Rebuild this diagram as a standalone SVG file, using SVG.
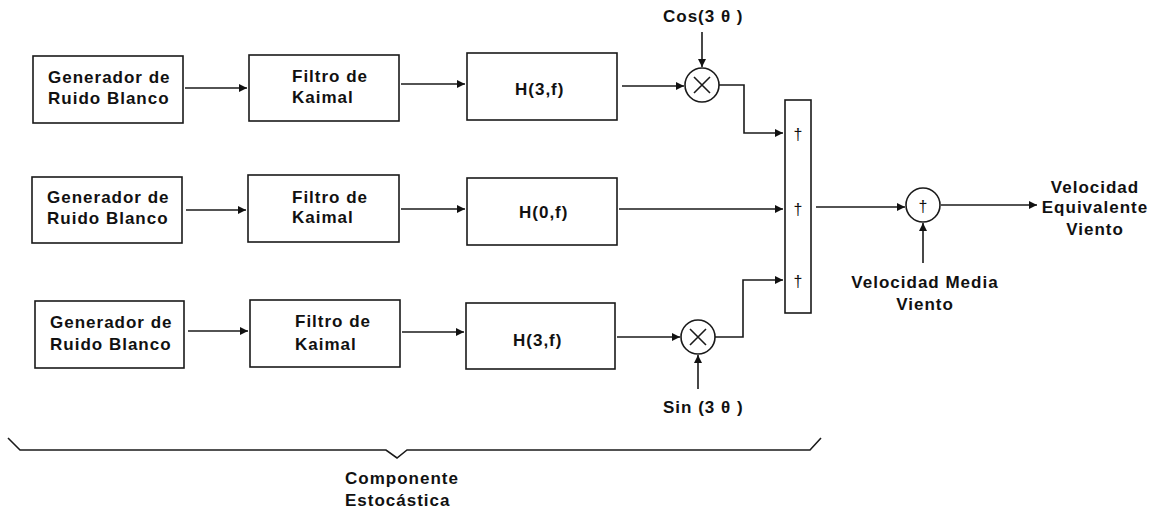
<svg xmlns="http://www.w3.org/2000/svg" width="1153" height="510" viewBox="0 0 1153 510">
<style>
.box{fill:#fff;stroke:#1a1a1a;stroke-width:1.6}
.ln{fill:none;stroke:#1a1a1a;stroke-width:1.6}
.t{font-family:"Liberation Sans",Arial,sans-serif;font-weight:bold;font-size:17px;letter-spacing:1px;fill:#111}
.d{font-family:"Liberation Sans",Arial,sans-serif;font-size:16px;fill:#111}
</style>
<defs>
<marker id="ah" markerUnits="userSpaceOnUse" markerWidth="9" markerHeight="8" refX="8" refY="4" orient="auto">
<path d="M0,0 L8,4 L0,8 z" fill="#111"/>
</marker>
</defs>
<rect width="1153" height="510" fill="#fff"/>

<g id="gen1"><rect class="box" x="33" y="56" width="150" height="67"/><text class="t" x="48" y="83">Generador de</text><text class="t" x="48" y="104">Ruido Blanco</text></g>
<g id="gen2"><rect class="box" x="32" y="177" width="150" height="66"/><text class="t" x="47" y="203">Generador de</text><text class="t" x="47" y="224">Ruido Blanco</text></g>
<g id="gen3"><rect class="box" x="35" y="301" width="149" height="67"/><text class="t" x="50" y="328">Generador de</text><text class="t" x="50" y="350">Ruido Blanco</text></g>

<g id="filt1"><rect class="box" x="249" y="55" width="150" height="66"/><text class="t" x="292" y="82">Filtro de</text><text class="t" x="292" y="103">Kaimal</text></g>
<g id="filt2"><rect class="box" x="248" y="175" width="151" height="67"/><text class="t" x="292" y="203">Filtro de</text><text class="t" x="292" y="223">Kaimal</text></g>
<g id="filt3"><rect class="box" x="250" y="300" width="150" height="67"/><text class="t" x="295" y="327">Filtro de</text><text class="t" x="295" y="350">Kaimal</text></g>

<g id="h1"><rect class="box" x="467" y="53" width="150" height="67"/><text class="t" x="515" y="95">H(3,f)</text></g>
<g id="h2"><rect class="box" x="467" y="178" width="150" height="67"/><text class="t" x="519" y="218">H(0,f)</text></g>
<g id="h3"><rect class="box" x="466" y="303" width="149" height="66"/><text class="t" x="513" y="346">H(3,f)</text></g>

<g id="mult1"><circle class="ln" cx="702" cy="85" r="17"/><path class="ln" d="M694,77 L710,93 M710,77 L694,93"/></g>
<g id="mult2"><circle class="ln" cx="698" cy="337" r="17"/><path class="ln" d="M690,329 L706,345 M706,329 L690,345"/></g>
<g id="cos"><text class="t" x="663" y="22" letter-spacing="0.5">Cos(3 θ )</text></g>
<g id="sin"><text class="t" x="663" y="413" letter-spacing="0.5">Sin (3 θ )</text></g>

<g id="summer"><rect class="box" x="785" y="100" width="26" height="213"/><text class="d" x="798" y="140" text-anchor="middle">†</text><text class="d" x="798" y="215" text-anchor="middle">†</text><text class="d" x="798" y="287" text-anchor="middle">†</text></g>
<g id="sum"><circle class="ln" cx="923" cy="205" r="17"/><text class="d" x="923" y="212" text-anchor="middle">†</text></g>
<g id="media"><text class="t" x="925" y="288" text-anchor="middle">Velocidad Media</text><text class="t" x="925" y="310" text-anchor="middle">Viento</text></g>
<g id="out"><text class="t" x="1095" y="193" text-anchor="middle">Velocidad</text><text class="t" x="1095" y="213" text-anchor="middle">Equivalente</text><text class="t" x="1095" y="235" text-anchor="middle">Viento</text></g>

<g id="brace"><path class="ln" d="M8,438 L20,450 L386,450 L397,458 L407,450 L810,450 L821,438"/><text class="t" x="345" y="484">Componente</text><text class="t" x="345" y="506">Estocástica</text></g>

<g id="connectors">
<path class="ln" marker-end="url(#ah)" d="M185,88 L247,88"/>
<path class="ln" marker-end="url(#ah)" d="M401,84 L465,84"/>
<path class="ln" marker-end="url(#ah)" d="M622,86 L684,86"/>
<path class="ln" marker-end="url(#ah)" d="M702,32 L702,67"/>
<path class="ln" marker-end="url(#ah)" d="M719,85 L744,85 L744,133 L783,133"/>
<path class="ln" marker-end="url(#ah)" d="M186,210 L246,210"/>
<path class="ln" marker-end="url(#ah)" d="M401,209 L465,209"/>
<path class="ln" marker-end="url(#ah)" d="M619,209 L783,209"/>
<path class="ln" marker-end="url(#ah)" d="M188,331 L248,331"/>
<path class="ln" marker-end="url(#ah)" d="M402,332 L464,332"/>
<path class="ln" marker-end="url(#ah)" d="M617,337 L680,337"/>
<path class="ln" marker-end="url(#ah)" d="M698,389 L698,355"/>
<path class="ln" marker-end="url(#ah)" d="M715,337 L743,337 L743,280 L783,280"/>
<path class="ln" marker-end="url(#ah)" d="M816,207 L905,207"/>
<path class="ln" marker-end="url(#ah)" d="M941,205 L1037,205"/>
<path class="ln" marker-end="url(#ah)" d="M923,263 L923,223"/>
</g>
</svg>
